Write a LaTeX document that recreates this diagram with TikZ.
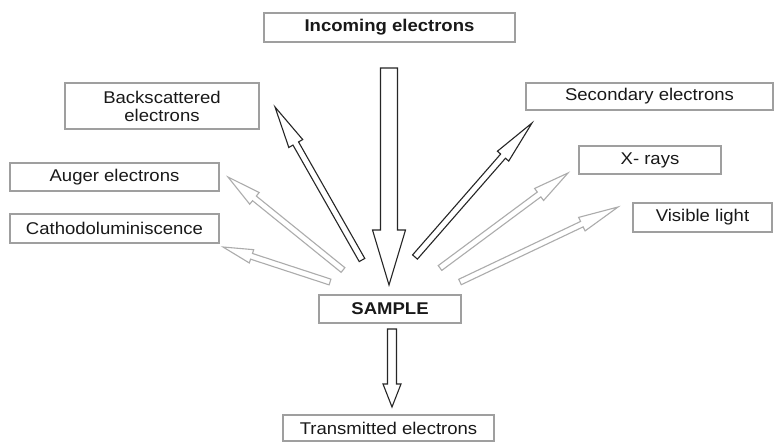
\documentclass[tikz,border=0pt]{standalone}
\usepackage{fontspec}
\setmainfont{Liberation Sans}[FakeStretch=1.09]
\usetikzlibrary{calc}
\tikzset{
  lbl/.style={draw=gray!75, line width=1.1pt, fill=white, inner sep=0pt,
    align=center, font=\fontsize{17}{18}\selectfont, text=black!90},
  darkarrow/.style={draw=black!85, line width=1.1pt, fill=white},
  lightarrow/.style={draw=gray!65, line width=1.1pt, fill=white},
}
% hollow block arrow: [style]{tail}{tip}{shaft half width}{head half width}{head length}
\newcommand\hollowarrow[6][]{%
  \coordinate (hb) at ($(#3)!#6!(#2)$);
  \draw[#1] ($(#2)!#4!90:(#3)$) -- ($(hb)!#4!-90:(#2)$) -- ($(hb)!#5!-90:(#2)$)
    -- (#3) -- ($(hb)!#5!90:(#2)$) -- ($(hb)!#4!90:(#2)$)
    -- ($(#2)!#4!-90:(#3)$) -- cycle;
}
\begin{document}
\begin{tikzpicture}[x=1pt, y=-1pt]
\useasboundingbox (0,0) rectangle (774,442);
\fill[white] (0,0) rectangle (774,442);

% labels
\node[lbl, minimum width=251pt, minimum height=29pt, font=\fontsize{17}{18}\selectfont\bfseries] (incoming) at (389.5,27.5) {Incoming electrons};
\node[lbl, minimum width=194pt, minimum height=46pt] (back) at (162,106) {Backscattered\\electrons};
\node[lbl, minimum width=209pt, minimum height=28pt] (auger) at (114.5,177) {Auger electrons};
\node[lbl, minimum width=209pt, minimum height=29pt] (cathodo) at (114.5,228.5) {Cathodoluminiscence};
\node[lbl, minimum width=247pt, minimum height=27pt] (secondary) at (649.5,96.5) {Secondary electrons};
\node[lbl, minimum width=142pt, minimum height=28pt] (xrays) at (650,160) {X- rays};
\node[lbl, minimum width=139pt, minimum height=29pt] (visible) at (702.5,217.5) {Visible light};
\node[lbl, minimum width=142pt, minimum height=28pt, font=\fontsize{17}{18}\selectfont\bfseries] (sample) at (390,309) {SAMPLE};
\node[lbl, minimum width=211pt, minimum height=26pt] (transmitted) at (388.5,428) {Transmitted electrons};

% arrow end points
\coordinate (in-tail) at (389,68);   \coordinate (in-tip) at (389,285);
\coordinate (bs-tail) at (362,260);  \coordinate (bs-tip) at (275,107);
\coordinate (au-tail) at (343,270);  \coordinate (au-tip) at (228,177);
\coordinate (cl-tail) at (330,282);  \coordinate (cl-tip) at (223,247);
\coordinate (se-tail) at (415,257);  \coordinate (se-tip) at (532,123);
\coordinate (xr-tail) at (440,268);  \coordinate (xr-tip) at (568,173);
\coordinate (vl-tail) at (460,282);  \coordinate (vl-tip) at (618,207);
\coordinate (tr-tail) at (392,329);  \coordinate (tr-tip) at (392,407);

% beam and emitted signals
\hollowarrow[darkarrow]{in-tail}{in-tip}{8.5pt}{16.5pt}{55pt}
\hollowarrow[darkarrow]{bs-tail}{bs-tip}{3.2pt}{8pt}{42pt}
\hollowarrow[lightarrow]{au-tail}{au-tip}{3pt}{7.5pt}{34pt}
\hollowarrow[lightarrow]{cl-tail}{cl-tip}{3pt}{7pt}{30pt}
\hollowarrow[darkarrow]{se-tail}{se-tip}{3.2pt}{7.5pt}{44pt}
\hollowarrow[lightarrow]{xr-tail}{xr-tip}{3pt}{7.5pt}{36pt}
\hollowarrow[lightarrow]{vl-tail}{vl-tip}{3pt}{7.5pt}{40pt}
\hollowarrow[darkarrow]{tr-tail}{tr-tip}{4.5pt}{9pt}{23pt}
\end{tikzpicture}
\end{document}
